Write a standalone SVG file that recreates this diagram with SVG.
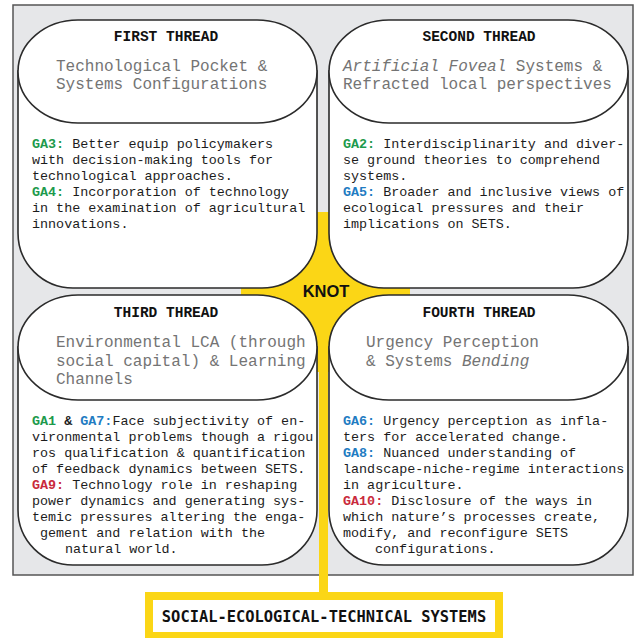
<svg xmlns="http://www.w3.org/2000/svg" width="634" height="638" viewBox="0 0 634 638">
  <style>
    .frame { fill: #e6e7e9; stroke: #555; stroke-width: 1.5; }
    .panel { fill: #fff; stroke: #2b2b2b; stroke-width: 1.6; }
    .knot { fill: #fbd616; }
    .head { font-family: "Liberation Mono", "DejaVu Sans Mono", monospace; font-weight: bold; font-size: 14.5px; fill: #111; text-anchor: middle; }
    .title { font-family: "Liberation Mono", "DejaVu Sans Mono", monospace; font-size: 16px; fill: #747474; }
    .body { font-family: "Liberation Mono", "DejaVu Sans Mono", monospace; font-size: 13.4px; fill: #1c1c1c; }
    .it { font-style: italic; }
    .g { fill: #1d9a4c; font-weight: bold; }
    .b { fill: #1f7cc2; font-weight: bold; }
    .r { fill: #c92a3c; font-weight: bold; }
    .k { font-weight: bold; }
    .knot-label { font-family: "Liberation Sans", Arial, sans-serif; font-weight: bold; font-size: 16.5px; fill: #111; text-anchor: middle; }
    .sets { font-family: "DejaVu Sans Mono", "Liberation Mono", monospace; font-weight: bold; font-size: 15.4px; fill: #111; text-anchor: middle; }
  </style>

  <!-- outer frame -->
  <rect class="frame" x="13" y="5" width="620" height="570"/>

  <!-- connectors: central knot and the stem down to the systems box -->
  <g id="connectors">
    <rect class="knot" x="241" y="212" width="169" height="160"/>
    <rect class="knot" x="319" y="372" width="9" height="226"/>
  </g>

  <g id="first-thread">
    <path class="panel" d="M18,71 V233 A55,55 0 0 0 73,288 H262 A55,55 0 0 0 317,233 V71 Z"/>
    <rect class="panel" x="18" y="20" width="299" height="103" rx="60" ry="51.5"/>
    <text class="head" x="166" y="41">FIRST THREAD</text>
    <text class="title" x="56" y="71">Technological Pocket &amp;</text>
    <text class="title" x="56" y="89">Systems Configurations</text>
    <text class="body" x="32" y="148"><tspan class="g">GA3:</tspan> Better equip policymakers</text>
    <text class="body" x="32" y="164">with decision-making tools for</text>
    <text class="body" x="32" y="180">technological approaches.</text>
    <text class="body" x="32" y="196"><tspan class="g">GA4:</tspan> Incorporation of technology</text>
    <text class="body" x="32" y="212">in the examination of agricultural</text>
    <text class="body" x="32" y="228">innovations.</text>
  </g>

  <g id="second-thread">
    <path class="panel" d="M329,71 V233 A55,55 0 0 0 384,288 H573 A55,55 0 0 0 628,233 V71 Z"/>
    <rect class="panel" x="329" y="20" width="299" height="103" rx="60" ry="51.5"/>
    <text class="head" x="479" y="41">SECOND THREAD</text>
    <text class="title" x="343" y="71"><tspan class="it">Artificial Foveal</tspan> Systems &amp;</text>
    <text class="title" x="343" y="89">Refracted local perspectives</text>
    <text class="body" x="343" y="148"><tspan class="g">GA2:</tspan> Interdisciplinarity and diver-</text>
    <text class="body" x="343" y="164">se ground theories to comprehend</text>
    <text class="body" x="343" y="180">systems.</text>
    <text class="body" x="343" y="196"><tspan class="b">GA5:</tspan> Broader and inclusive views of</text>
    <text class="body" x="343" y="212">ecological pressures and their</text>
    <text class="body" x="343" y="228">implications on SETS.</text>
  </g>

  <g id="third-thread">
    <path class="panel" d="M18,347 V510 A55,55 0 0 0 73,565 H262 A55,55 0 0 0 317,510 V347 Z"/>
    <rect class="panel" x="18" y="295" width="299" height="105" rx="60" ry="52.5"/>
    <text class="head" x="166" y="317">THIRD THREAD</text>
    <text class="title" x="56" y="347">Environmental LCA (through</text>
    <text class="title" x="56" y="365.5">social capital) &amp; Learning</text>
    <text class="title" x="56" y="384">Channels</text>
    <text class="body" x="32" y="425"><tspan class="g">GA1</tspan><tspan class="k"> &amp; </tspan><tspan class="b">GA7:</tspan>Face subjectivity of en-</text>
    <text class="body" x="32" y="441">vironmental problems though a rigou</text>
    <text class="body" x="32" y="457">ros qualification &amp; quantification</text>
    <text class="body" x="32" y="473">of feedback dynamics between SETS.</text>
    <text class="body" x="32" y="489"><tspan class="r">GA9:</tspan> Technology role in reshaping</text>
    <text class="body" x="32" y="505">power dynamics and generating sys-</text>
    <text class="body" x="32" y="521">temic pressures altering the enga-</text>
    <text class="body" x="40" y="537">gement and relation with the</text>
    <text class="body" x="65" y="553">natural world.</text>
  </g>

  <g id="fourth-thread">
    <path class="panel" d="M329,347 V510 A55,55 0 0 0 384,565 H573 A55,55 0 0 0 628,510 V347 Z"/>
    <rect class="panel" x="329" y="295" width="299" height="105" rx="60" ry="52.5"/>
    <text class="head" x="479" y="317">FOURTH THREAD</text>
    <text class="title" x="366" y="347">Urgency Perception</text>
    <text class="title" x="366" y="366">&amp; Systems <tspan class="it">Bending</tspan></text>
    <text class="body" x="343" y="425"><tspan class="b">GA6:</tspan> Urgency perception as infla-</text>
    <text class="body" x="343" y="441">ters for accelerated change.</text>
    <text class="body" x="343" y="457"><tspan class="b">GA8:</tspan> Nuanced understanding of</text>
    <text class="body" x="343" y="473">landscape-niche-regime interactions</text>
    <text class="body" x="343" y="489">in agriculture.</text>
    <text class="body" x="343" y="505"><tspan class="r">GA10:</tspan> Disclosure of the ways in</text>
    <text class="body" x="343" y="521">which nature’s processes create,</text>
    <text class="body" x="343" y="537">modify, and reconfigure SETS</text>
    <text class="body" x="375" y="553">configurations.</text>
  </g>

  <g id="knot">
    <text class="knot-label" x="326" y="297">KNOT</text>
  </g>

  <g id="sets">
    <rect x="149" y="596" width="350" height="40" fill="#fff" stroke="#fbd616" stroke-width="8"/>
    <text class="sets" x="324" y="622">SOCIAL-ECOLOGICAL-TECHNICAL SYSTEMS</text>
  </g>
</svg>
